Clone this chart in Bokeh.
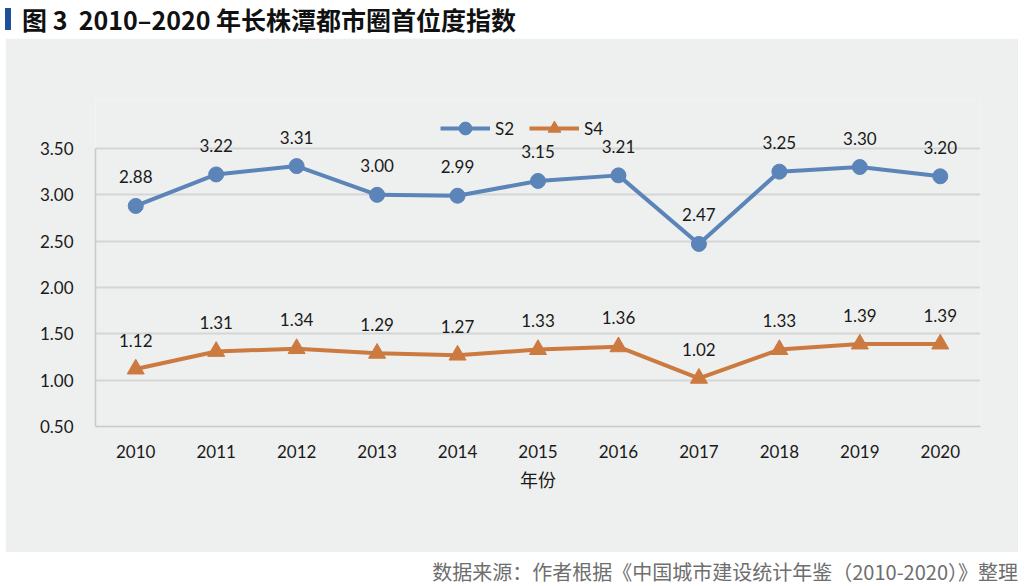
from bokeh.plotting import figure
from bokeh.models import (FactorRange, Range1d, FixedTicker, Legend, LegendItem,
                          Div, ColumnDataSource, NumeralTickFormatter)
from bokeh.layouts import column
from bokeh.core.properties import value
from bokeh.embed import file_html
from bokeh.resources import INLINE

years = ["2010", "2011", "2012", "2013", "2014", "2015", "2016", "2017", "2018", "2019", "2020"]
s2 = [2.88, 3.22, 3.31, 3.00, 2.99, 3.15, 3.21, 2.47, 3.25, 3.30, 3.20]
s4 = [1.12, 1.31, 1.34, 1.29, 1.27, 1.33, 1.36, 1.02, 1.33, 1.39, 1.39]
y_ticks = [0.5, 1.0, 1.5, 2.0, 2.5, 3.0, 3.5]

title_text = "图 3&nbsp;&nbsp;2010–2020 年长株潭都市圈首位度指数"
footer_text = "数据来源：作者根据《中国城市建设统计年鉴（2010-2020）》整理"
x_label = "年份"

BLUE = "#5b84b9"
ORANGE = "#cc7a3f"
PANEL = "#eeefef"
GRID = "#d4d6d6"
FONT = "Lato"
CJK = "Noto Sans CJK SC"

src = ColumnDataSource(dict(
    year=years, s2=s2, s4=s4,
    s2_lbl=[f"{v:.2f}" for v in s2],
    s4_lbl=[f"{v:.2f}" for v in s4],
))

p = figure(
    x_range=FactorRange(factors=years),
    y_range=Range1d(0.5, 4.018),
    width=1013, height=514,
    min_border_left=90, min_border_right=38,
    min_border_top=62, min_border_bottom=126,
    background_fill_color=PANEL, border_fill_color=PANEL,
    output_backend="svg", toolbar_location=None,
)
p.outline_line_color = None

# axes
p.yaxis.ticker = FixedTicker(ticks=y_ticks)
p.ygrid.ticker = FixedTicker(ticks=y_ticks)
p.yaxis.formatter = NumeralTickFormatter(format="0.00")
p.yaxis.bounds = (0.5, 3.5)
p.yaxis.axis_line_color = "#c6c9c9"
p.yaxis.axis_line_width = 1.5
p.yaxis.major_tick_line_color = None
p.yaxis.minor_tick_line_color = None
p.yaxis.major_tick_out = 0
p.yaxis.major_label_standoff = 22
p.yaxis.major_label_text_font = FONT
p.yaxis.major_label_text_font_size = "17px"
p.yaxis.major_label_text_color = "#1a1a1a"

p.xaxis.axis_line_color = "#c6c9c9"
p.xaxis.axis_line_width = 1.5
p.xaxis.major_tick_line_color = None
p.xaxis.minor_tick_line_color = None
p.xaxis.major_tick_out = 0
p.xaxis.major_label_standoff = 18
p.xaxis.major_label_text_font = FONT
p.xaxis.major_label_text_font_size = "17px"
p.xaxis.major_label_text_color = "#1a1a1a"
p.xaxis.axis_label = x_label
p.xaxis.axis_label_text_font = CJK
p.xaxis.axis_label_text_font_size = "18px"
p.xaxis.axis_label_text_font_style = "normal"
p.xaxis.axis_label_text_color = "#1a1a1a"
p.xaxis.axis_label_standoff = 5

p.xgrid.visible = False
p.ygrid.grid_line_color = GRID
p.ygrid.grid_line_width = 2

# series
l2 = p.line(x="year", y="s2", source=src, line_width=4, color=BLUE, line_join="round")
c2 = p.scatter(x="year", y="s2", source=src, marker="circle", size=15, color=BLUE)
l4 = p.line(x="year", y="s4", source=src, line_width=4, color=ORANGE, line_join="round")
t4 = p.scatter(x="year", y="s4", source=src, marker="triangle", size=17, color=ORANGE)

# data labels
for col in ("s2", "s4"):
    p.text(x="year", y=col, text=col + "_lbl", source=src,
           text_font=value(FONT), text_font_size="17px", text_color="#1a1a1a",
           text_align="center", text_baseline="middle", y_offset=-29)

legend = Legend(
    items=[LegendItem(label="S2", renderers=[l2, c2]),
           LegendItem(label="S4", renderers=[l4, t4])],
    location=(345, 282), orientation="horizontal",
    padding=0, margin=0, spacing=14, label_standoff=5,
    glyph_width=50, glyph_height=32, label_height=32,
    label_text_font=FONT, label_text_font_size="17px", label_text_color="#1a1a1a",
    background_fill_alpha=0, border_line_alpha=0,
)
p.add_layout(legend)

title_div = Div(
    text=('<div style="display:flex;align-items:center;height:38px;">'
          '<span style="display:inline-block;width:6px;height:22px;background:#1f4f9b;margin-right:11px;"></span>'
          f'<span style="font-family:\'{CJK}\';font-weight:bold;font-size:25px;color:#111;'
          f'line-height:30px;white-space:nowrap;">{title_text}</span></div>'),
    width=1013, height=38, margin=0,
)

footer_div = Div(
    text=(f'<div style="width:1013px;text-align:right;padding-top:10px;font-family:\'{CJK}\';'
          f'font-size:20px;line-height:20px;color:#6e6e6e;white-space:nowrap;">{footer_text}</div>'),
    width=1013, height=34, margin=0,
)

layout = column(title_div, p, footer_div, spacing=0, margin=(0, 0, 0, 5))

open("out.html", "w").write(file_html(layout, INLINE))
